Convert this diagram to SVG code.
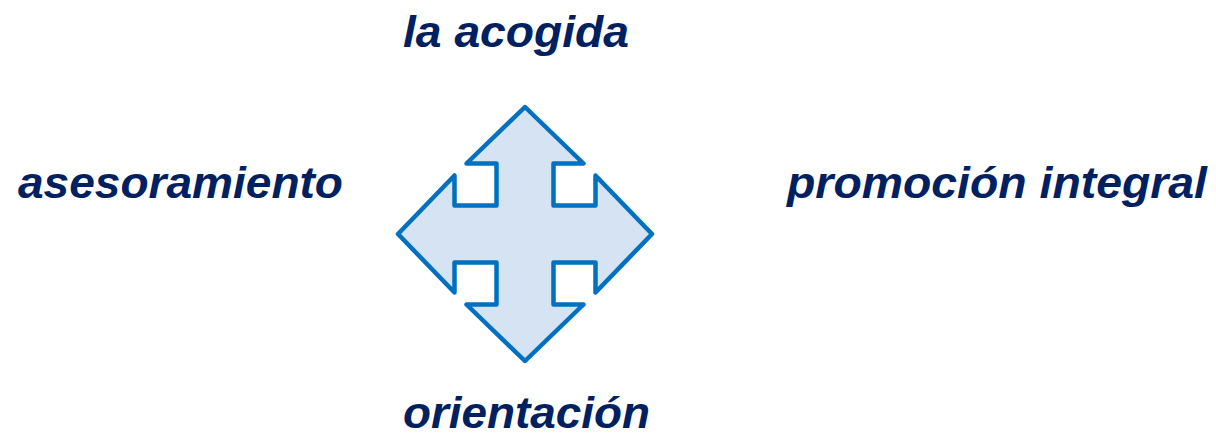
<svg xmlns="http://www.w3.org/2000/svg" width="1216" height="435" viewBox="0 0 1216 435">
<style>
.lbl{font-family:"Liberation Sans",Arial,sans-serif;font-size:45px;font-weight:bold;font-style:italic;fill:#002060}
.arrow{fill:#D6E3F2;stroke:#0070C0;stroke-width:4.5;stroke-linejoin:round}
</style>
<rect width="1216" height="435" fill="#FFFFFF"/>
<g id="arrow">
<path class="arrow" d="M525,107 L583.5,163.5 L553.5,163.5 L553.5,205.5 L595.5,205.5 L595.5,175.5 L652,234 L595.5,292.5 L595.5,262.5 L553.5,262.5 L553.5,304.5 L583.5,304.5 L525,361 L466.5,304.5 L496.5,304.5 L496.5,262.5 L454.5,262.5 L454.5,292.5 L398,234 L454.5,175.5 L454.5,205.5 L496.5,205.5 L496.5,163.5 L466.5,163.5 Z"/>
</g>
<g id="connectors"></g>
<g id="node-top"><text class="lbl" x="403" y="47" textLength="226" lengthAdjust="spacingAndGlyphs">la acogida</text></g>
<g id="node-left"><text class="lbl" x="18" y="198" textLength="325" lengthAdjust="spacingAndGlyphs">asesoramiento</text></g>
<g id="node-right"><text class="lbl" x="787" y="198" textLength="420" lengthAdjust="spacingAndGlyphs">promoción integral</text></g>
<g id="node-bottom"><text class="lbl" x="403" y="428" textLength="247" lengthAdjust="spacingAndGlyphs">orientación</text></g>
</svg>
